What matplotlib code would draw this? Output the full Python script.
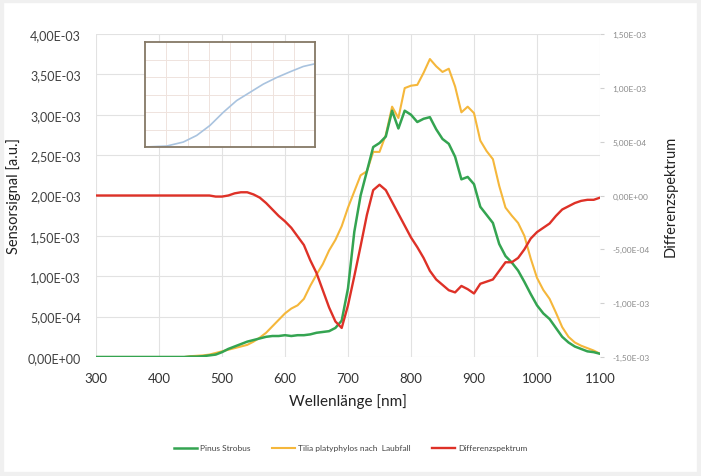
import matplotlib
matplotlib.use("Agg")
from matplotlib import pyplot as plt
from matplotlib.ticker import FuncFormatter, MultipleLocator
from matplotlib.patches import Rectangle

plt.rcParams['font.family'] = ['Lato', 'DejaVu Sans']

# Wellenlaenge [nm]
wellenlaenge = list(range(300, 1101, 10))

# Sensorsignal Pinus Strobus [1e-3 a.u.]
pinus = [0, 0, 0, 0, 0, 0, 0, 0, 0, 0, 0, 0, 0, 0, 0, 0.005, 0.005, 0.01,
         0.02, 0.03, 0.06, 0.10, 0.13, 0.16, 0.19, 0.21, 0.23, 0.25, 0.26, 0.26,
         0.27, 0.26, 0.27, 0.27, 0.28, 0.30, 0.31, 0.32, 0.36, 0.45,
         0.85, 1.55, 2.00, 2.30, 2.60, 2.65, 2.73, 3.05, 2.83, 3.05,
         3.00, 2.91, 2.95, 2.97, 2.82, 2.70, 2.64, 2.48, 2.20, 2.23,
         2.14, 1.86, 1.76, 1.66, 1.40, 1.25, 1.17, 1.07, 0.93, 0.78,
         0.64, 0.54, 0.47, 0.36, 0.25, 0.18, 0.13, 0.10, 0.07, 0.06, 0.04]

# Sensorsignal Tilia platyphylos nach Laubfall [1e-3 a.u.]
tilia = [0, 0, 0, 0, 0, 0, 0, 0, 0, 0, 0, 0, 0, 0, 0, 0.01, 0.015, 0.02,
         0.03, 0.05, 0.07, 0.09, 0.11, 0.13, 0.15, 0.19, 0.24, 0.30, 0.38, 0.46,
         0.54, 0.60, 0.64, 0.72, 0.88, 1.02, 1.15, 1.32, 1.45, 1.62,
         1.85, 2.05, 2.25, 2.30, 2.54, 2.54, 2.75, 3.10, 2.96, 3.33,
         3.36, 3.37, 3.52, 3.69, 3.60, 3.53, 3.57, 3.35, 3.03, 3.10,
         3.02, 2.68, 2.55, 2.45, 2.12, 1.85, 1.75, 1.66, 1.50, 1.22,
         0.98, 0.83, 0.72, 0.55, 0.37, 0.25, 0.18, 0.14, 0.11, 0.08, 0.04]

# Differenzspektrum [1e-3]
differenz = [0, 0, 0, 0, 0, 0, 0, 0, 0, 0, 0, 0, 0, 0, 0, 0, 0, 0,
             0, -0.01, -0.01, 0.0, 0.02, 0.03, 0.03, 0.01, -0.02, -0.07, -0.13, -0.19,
             -0.24, -0.30, -0.38, -0.46, -0.60, -0.72, -0.88, -1.04, -1.17, -1.23,
             -1.02, -0.75, -0.47, -0.18, 0.05, 0.10, 0.05, -0.06, -0.17, -0.28,
             -0.39, -0.48, -0.58, -0.70, -0.78, -0.83, -0.88, -0.90, -0.84, -0.87,
             -0.91, -0.82, -0.80, -0.78, -0.70, -0.62, -0.62, -0.58, -0.50, -0.40,
             -0.34, -0.30, -0.26, -0.19, -0.13, -0.10, -0.07, -0.05, -0.04, -0.04, -0.02]

# kleines Einsatzbild (normiert)
inset_x = [0, 0.127, 0.225, 0.304, 0.382, 0.461, 0.539, 0.618, 0.696, 0.775, 0.853, 0.931, 0.99]
inset_y = [0, 0.009, 0.047, 0.11, 0.205, 0.331, 0.442, 0.521, 0.599, 0.662, 0.716, 0.767, 0.789]

green = '#34a451'
yellow = '#f5b73b'
red = '#de3127'


def e_format(v, pos):
    return f"{v:.2E}".replace('.', ',')


fig = plt.figure(figsize=(7.01, 4.77), dpi=100, facecolor='white')
# grauer Rand um die Grafik
fig.patches.append(Rectangle((0, 0), 1, 1, transform=fig.transFigure, facecolor='none',
                             edgecolor='#f0f0f0', lw=6, zorder=-10))

ax = fig.add_axes([96 / 701, 1 - 358 / 477, 504 / 701, 323 / 477])
ax2 = ax.twinx()

y1 = [v * 1e-3 for v in pinus]
y2 = [v * 1e-3 for v in tilia]
y3 = [v * 1e-3 for v in differenz]

l1, = ax.plot(wellenlaenge, y1, color=green, lw=1.8, label='Pinus Strobus', zorder=3)
l2, = ax.plot(wellenlaenge, y2, color=yellow, lw=1.5, label='Tilia platyphylos nach  Laubfall', zorder=2)
l3, = ax2.plot(wellenlaenge, y3, color=red, lw=1.7, label='Differenzspektrum', zorder=4)

ax.set_xlim(300, 1100)
ax.set_ylim(0, 4e-3)
ax2.set_ylim(-1.5e-3, 1.5e-3)
ax.xaxis.set_major_locator(MultipleLocator(100))
ax.yaxis.set_major_locator(MultipleLocator(0.5e-3))
ax2.yaxis.set_major_locator(MultipleLocator(0.5e-3))
ax.yaxis.set_major_formatter(FuncFormatter(e_format))
ax2.yaxis.set_major_formatter(FuncFormatter(e_format))
ax.yaxis.get_offset_text().set_visible(False)
ax2.yaxis.get_offset_text().set_visible(False)

ax.grid(True, color='#e2e2e2', lw=0.8)
ax.set_axisbelow(True)
for a in (ax, ax2):
    for s in a.spines.values():
        s.set_visible(False)

ax.tick_params(axis='y', length=0, pad=11, labelsize=9, labelcolor='#404040')
ax.tick_params(axis='x', length=0, pad=11, labelsize=9.5, labelcolor='#333333')
ax2.tick_params(axis='y', length=3, color='#d0d0d0', pad=6, labelsize=6,
                labelcolor='#8a8a8a')

ax.set_xlabel('Wellenlänge [nm]', fontsize=11, color='#222222', labelpad=6)
ax.set_ylabel('Sensorsignal [a.u.]', fontsize=10.5, color='#222222', labelpad=5)
ax2.set_ylabel('Differenzspektrum', fontsize=10.5, color='#222222', labelpad=10)

# Einsatzbild oben links
axi = fig.add_axes([145 / 701, 1 - 148 / 477, 170 / 701, 105 / 477])
axi.set_facecolor('white')
axi.plot(inset_x, inset_y, color='#a9c3df', lw=1.2)
axi.set_xlim(0, 1)
axi.set_ylim(0, 1)
axi.set_xticks([i / 8 for i in range(1, 8)])
axi.set_yticks([i / 6 for i in range(1, 6)])
axi.grid(True, color='#efe3dd', lw=0.7)
axi.tick_params(length=0, labelbottom=False, labelleft=False)
for s in axi.spines.values():
    s.set_color('#857866')
    s.set_linewidth(1.3)

fig.legend(handles=[l1, l2, l3], loc='center', bbox_to_anchor=(0.5, 1 - 449 / 477),
           ncol=3, frameon=False, fontsize=6, handlelength=2.8, columnspacing=2.6,
           handletextpad=0.3, labelcolor='#444444')

fig.savefig('out.png', dpi=100)
